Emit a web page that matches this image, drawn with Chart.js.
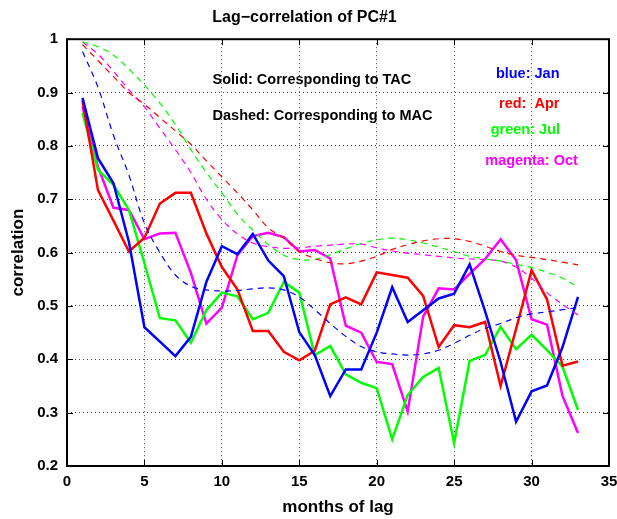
<!DOCTYPE html>
<html>
<head>
<meta charset="utf-8">
<title>Lag-correlation of PC#1</title>
<script src="https://cdn.jsdelivr.net/npm/chart.js@4.4.1/dist/chart.umd.min.js"></script>
<style>
    html, body { margin: 0; padding: 0; background: #fff; }
    canvas { display: block; }
</style>
</head>
<body>
<canvas id="lagChart" width="617" height="519"></canvas>
<script>
// months of lag
const lags = [1, 2, 3, 4, 5, 6, 7, 8, 9, 10, 11, 12, 13, 14, 15, 16, 17,
    18, 19, 20, 21, 22, 23, 24, 25, 26, 27, 28, 29, 30, 31, 32, 33];

// solid: corresponding to TAC
const tacJan = [0.89, 0.777, 0.73, 0.62, 0.46, 0.433, 0.406, 0.442, 0.545, 0.612, 0.597, 0.635, 0.585,
    0.556, 0.451, 0.408, 0.331, 0.381, 0.381, 0.45, 0.535, 0.47, 0.492, 0.514, 0.523, 0.578, 0.49,
    0.395, 0.283, 0.34, 0.351, 0.423, 0.517];
const tacApr = [0.885, 0.717, 0.66, 0.602, 0.628, 0.692, 0.712, 0.712, 0.636, 0.573, 0.531, 0.453, 0.453,
    0.414, 0.398, 0.416, 0.503, 0.516, 0.503, 0.563, 0.558, 0.553, 0.519, 0.423, 0.464, 0.46, 0.47,
    0.35, 0.457, 0.567, 0.512, 0.388, 0.396];
const tacJul = [0.862, 0.755, 0.727, 0.68, 0.58, 0.477, 0.473, 0.431, 0.492, 0.525, 0.518, 0.475, 0.487,
    0.545, 0.525, 0.408, 0.425, 0.372, 0.356, 0.346, 0.25, 0.333, 0.367, 0.384, 0.243, 0.397, 0.408,
    0.461, 0.419, 0.446, 0.417, 0.386, 0.305];
const tacOct = [0.874, 0.761, 0.684, 0.68, 0.625, 0.636, 0.637, 0.562, 0.467, 0.497, 0.595, 0.631, 0.637,
    0.629, 0.602, 0.605, 0.589, 0.463, 0.45, 0.395, 0.391, 0.302, 0.48, 0.533, 0.531, 0.56, 0.588,
    0.625, 0.586, 0.475, 0.465, 0.331, 0.262];

// dashed: corresponding to MAC
const macJan = [0.977, 0.91, 0.82, 0.745, 0.655, 0.6, 0.558, 0.537, 0.53, 0.528, 0.529, 0.532, 0.534,
    0.53, 0.517, 0.493, 0.467, 0.443, 0.424, 0.414, 0.41, 0.408, 0.41, 0.417, 0.43, 0.445, 0.458,
    0.467, 0.478, 0.485, 0.489, 0.493, 0.497];
const macApr = [0.99, 0.96, 0.93, 0.9, 0.878, 0.853, 0.828, 0.803, 0.772, 0.742, 0.712, 0.68, 0.646,
    0.627, 0.602, 0.589, 0.581, 0.579, 0.584, 0.593, 0.606, 0.615, 0.622, 0.626, 0.626, 0.621, 0.612,
    0.602, 0.595, 0.591, 0.587, 0.582, 0.577];
const macJul = [0.995, 0.986, 0.97, 0.944, 0.914, 0.88, 0.84, 0.793, 0.75, 0.712, 0.672, 0.642, 0.615,
    0.595, 0.587, 0.587, 0.596, 0.607, 0.617, 0.624, 0.627, 0.624, 0.618, 0.61, 0.602, 0.593, 0.588,
    0.584, 0.578, 0.572, 0.563, 0.552, 0.535];
const macOct = [0.995, 0.972, 0.94, 0.905, 0.873, 0.833, 0.793, 0.75, 0.7, 0.662, 0.635, 0.618, 0.611,
    0.608, 0.609, 0.612, 0.614, 0.616, 0.616, 0.609, 0.603, 0.599, 0.596, 0.593, 0.59, 0.588, 0.587,
    0.584, 0.573, 0.552, 0.525, 0.503, 0.483];

const xTicks = [0, 5, 10, 15, 20, 25, 30, 35];
const yTicks = [0.2, 0.3, 0.4, 0.5, 0.6, 0.7, 0.8, 0.9, 1];

const colors = {jan: "#0000ff", apr: "#ff0000", jul: "#00ff00", oct: "#ff00ff"};

const notes = [
    {text: "Solid: Corresponding to TAC", x: 9.4, y: 0.923, align: "left", color: "#000"},
    {text: "Dashed: Corresponding to MAC", x: 9.4, y: 0.856, align: "left", color: "#000"},
    {text: "blue: Jan", x: 29.75, y: 0.934, align: "center", color: colors.jan},
    {text: "red:  Apr", x: 29.85, y: 0.879, align: "center", color: colors.apr},
    {text: "green: Jul", x: 29.6, y: 0.83, align: "center", color: colors.jul},
    {text: "magenta: Oct", x: 30.0, y: 0.772, align: "center", color: colors.oct}
];

const fontFamily = "'Liberation Sans', Arial, sans-serif";

function points(values) {
    return values.map((value, index) => ({x: lags[index], y: value}));
}

function solid(values, color) {
    return {
        data: points(values),
        borderColor: color,
        borderWidth: 2.5,
        tension: 0,
        pointRadius: 0
    };
}

function dashed(values, color) {
    return {
        data: points(values),
        borderColor: color,
        borderWidth: 1.2,
        borderDash: [6, 5],
        tension: 0.35,
        pointRadius: 0
    };
}

// matlab-like box with inward ticks, plus the text notes
const framePlugin = {
    id: "frame",
    afterDatasetsDraw(chart) {
        const {ctx, chartArea: area, scales} = chart;
        ctx.save();
        ctx.strokeStyle = "#000";
        ctx.lineWidth = 1;
        xTicks.forEach((tick) => {
            const px = Math.round(scales.x.getPixelForValue(tick)) + 0.5;
            ctx.beginPath();
            ctx.moveTo(px, area.bottom);
            ctx.lineTo(px, area.bottom - 6);
            ctx.moveTo(px, area.top);
            ctx.lineTo(px, area.top + 6);
            ctx.stroke();
        });
        yTicks.forEach((tick) => {
            const py = Math.round(scales.y.getPixelForValue(tick)) + 0.5;
            ctx.beginPath();
            ctx.moveTo(area.left, py);
            ctx.lineTo(area.left + 6, py);
            ctx.moveTo(area.right, py);
            ctx.lineTo(area.right - 6, py);
            ctx.stroke();
        });
        ctx.lineWidth = 2;
        ctx.strokeRect(area.left, area.top, area.right - area.left, area.bottom - area.top);

        ctx.font = `bold 14.5px ${fontFamily}`;
        ctx.textBaseline = "middle";
        notes.forEach((note) => {
            ctx.fillStyle = note.color;
            ctx.textAlign = note.align;
            ctx.fillText(note.text, scales.x.getPixelForValue(note.x), scales.y.getPixelForValue(note.y));
        });
        ctx.restore();
    }
};

const tickFont = {family: fontFamily, size: 15, weight: "bold"};
const titleFont = {family: fontFamily, size: 17, weight: "bold"};

new Chart(document.getElementById("lagChart").getContext("2d"), {
    type: "line",
    data: {
        datasets: [
            dashed(macJan, colors.jan),
            dashed(macApr, colors.apr),
            dashed(macJul, colors.jul),
            dashed(macOct, colors.oct),
            solid(tacJan, colors.jan),
            solid(tacApr, colors.apr),
            solid(tacJul, colors.jul),
            solid(tacOct, colors.oct)
        ]
    },
    options: {
        responsive: false,
        animation: false,
        layout: {autoPadding: false, padding: {top: 0, right: 8, left: 0, bottom: 0}},
        plugins: {
            legend: {display: false},
            tooltip: {enabled: false},
            title: {
                display: true,
                text: "Lag\u2212correlation of PC#1",
                color: "#000",
                font: {family: fontFamily, size: 16, weight: "bold"},
                padding: {top: 8, bottom: 12}
            }
        },
        scales: {
            x: {
                type: "linear",
                min: 0,
                max: 35,
                afterBuildTicks: (scale) => {
                    scale.ticks = xTicks.map((value) => ({value}));
                },
                afterFit: (scale) => {
                    scale.height = 53;
                    scale.paddingLeft = 0;
                    scale.paddingRight = 0;
                },
                ticks: {color: "#000", font: tickFont, padding: 7, maxRotation: 0},
                grid: {color: "#444", lineWidth: 1, drawTicks: false},
                border: {display: false, dash: [1, 3]},
                title: {
                    display: true,
                    text: "months of lag",
                    color: "#000",
                    font: titleFont,
                    padding: {top: 0, bottom: 1}
                }
            },
            y: {
                min: 0.2,
                max: 1,
                afterBuildTicks: (scale) => {
                    scale.ticks = yTicks.map((value) => ({value}));
                },
                afterFit: (scale) => {
                    scale.width = 67;
                    scale.paddingTop = 0;
                    scale.paddingBottom = 0;
                },
                ticks: {
                    color: "#000",
                    font: tickFont,
                    padding: 9,
                    callback: (value) => `${Number(value.toFixed(1))}`
                },
                grid: {color: "#444", lineWidth: 1, drawTicks: false},
                border: {display: false, dash: [1, 3]},
                title: {
                    display: true,
                    text: "correlation",
                    color: "#000",
                    font: titleFont,
                    padding: {top: 8, bottom: 0}
                }
            }
        }
    },
    plugins: [framePlugin]
});
</script>
</body>
</html>
